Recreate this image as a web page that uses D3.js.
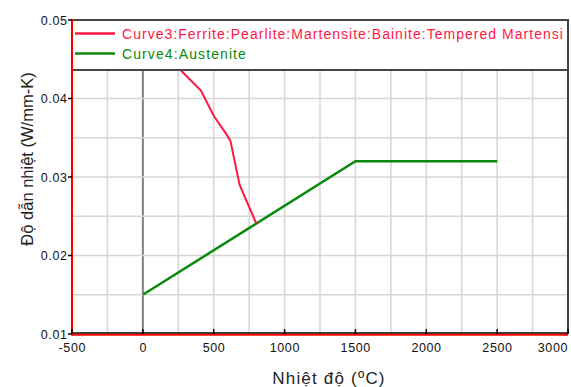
<!DOCTYPE html>
<html><head><meta charset="utf-8">
<script src="https://cdn.jsdelivr.net/npm/d3@7"></script>
<style>body{margin:0;background:#fff}svg{display:block}</style>
</head><body>
<svg id="c" width="571" height="387"></svg>
<script>
const xTicks = [-500, 0, 500, 1000, 1500, 2000, 2500, 3000];
const yTicks = [0.01, 0.02, 0.03, 0.04, 0.05];
const curve3X = [120, 267, 410, 500, 595, 618, 683, 800];
const curve3Y = [0.0462, 0.0436, 0.0410, 0.0378, 0.0353, 0.0346, 0.0290, 0.0241];
const curve4X = [0, 1500, 2500];
const curve4Y = [0.015, 0.032, 0.032];
const legendLabels = ["Curve3:Ferrite:Pearlite:Martensite:Bainite:Tempered Martensi", "Curve4:Austenite"];
const colors = ["#ff1744", "#0a8a0a"];

const L = 72, R = 568, T = 20, B = 334;
const svg = d3.select("#c");
const x = d3.scaleLinear().domain([-500, 3000]).range([L, R]);
const y = d3.scaleLinear().domain([0.01, 0.05]).range([B, T]);
const font = "'Liberation Sans', Arial, sans-serif";

// grid
const gx = d3.range(-500, 3001, 250), gy = d3.range(0.01, 0.0501, 0.005);
svg.append("g").selectAll("line").data(gx).join("line")
  .attr("x1", d => x(d)).attr("x2", d => x(d)).attr("y1", T).attr("y2", B)
  .attr("stroke", d => d === 0 ? "#808080" : "#d6d6d6").attr("stroke-width", d => d === 0 ? 2 : 1.5);
svg.append("g").selectAll("line").data(gy).join("line")
  .attr("x1", L).attr("x2", R).attr("y1", d => y(d)).attr("y2", d => y(d))
  .attr("stroke", "#d6d6d6").attr("stroke-width", 1.5);

// curves
const line = d3.line().x(d => x(d[0])).y(d => y(d[1]));
const c3 = curve3X.map((v, i) => [v, curve3Y[i]]);
const c4 = curve4X.map((v, i) => [v, curve4Y[i]]);
svg.append("path").attr("d", line(c4)).attr("fill", "none").attr("stroke", colors[1]).attr("stroke-width", 2.5);
svg.append("path").attr("d", line(c3)).attr("fill", "none").attr("stroke", colors[0]).attr("stroke-width", 2);

// frame
svg.append("line").attr("x1", L).attr("x2", R).attr("y1", T).attr("y2", T).attr("stroke", "#444").attr("stroke-width", 2);
svg.append("line").attr("x1", R).attr("x2", R).attr("y1", T).attr("y2", B).attr("stroke", "#444").attr("stroke-width", 2);

// legend
const lg = svg.append("g");
lg.append("rect").attr("x", L).attr("y", T).attr("width", R - L).attr("height", 50)
  .attr("fill", "#fff").attr("stroke", "#444").attr("stroke-width", 2);
legendLabels.forEach((t, i) => {
  const yy = 33.5 + i * 20;
  lg.append("line").attr("x1", 75).attr("x2", 115).attr("y1", yy).attr("y2", yy)
    .attr("stroke", colors[i]).attr("stroke-width", 2.5);
  const tx = lg.append("text").attr("x", 122).attr("y", yy + 5)
    .attr("fill", colors[i]).attr("font-family", font).attr("font-size", 14)
    .attr("letter-spacing", 1.1).text(t);
  if (i === 0) tx.attr("textLength", 442).attr("lengthAdjust", "spacing");
});

// axes lines
svg.append("line").attr("x1", L).attr("x2", R).attr("y1", B - 1).attr("y2", B - 1).attr("stroke", "#000").attr("stroke-width", 1.5);
svg.append("line").attr("x1", L).attr("x2", R).attr("y1", B + 0.8).attr("y2", B + 0.8).attr("stroke", "#ff0000").attr("stroke-width", 2);
svg.append("line").attr("x1", L).attr("x2", L).attr("y1", T - 1).attr("y2", B + 1.5).attr("stroke", "#ff0000").attr("stroke-width", 2);

// x ticks
svg.append("g").selectAll("line").data(xTicks).join("line")
  .attr("x1", d => x(d)).attr("x2", d => x(d)).attr("y1", B).attr("y2", B - 5)
  .attr("stroke", "#000").attr("stroke-width", 1.5);
svg.append("g").selectAll("text").data(xTicks).join("text")
  .attr("x", (d, i) => i === xTicks.length - 1 ? R : x(d) + 0.3)
  .attr("y", 352).attr("text-anchor", (d, i) => i === xTicks.length - 1 ? "end" : "middle")
  .attr("font-family", font).attr("font-size", 12.5).attr("letter-spacing", 0.6).attr("fill", "#111").text(d => d);
// y ticks
svg.append("g").selectAll("line").data(yTicks).join("line")
  .attr("x1", L - 4).attr("x2", L).attr("y1", d => y(d)).attr("y2", d => y(d))
  .attr("stroke", "#000").attr("stroke-width", 1.5);
svg.append("g").selectAll("text").data(yTicks).join("text")
  .attr("x", 67.5).attr("y", d => y(d) + 4.5).attr("text-anchor", "end")
  .attr("font-family", font).attr("font-size", 12.5).attr("letter-spacing", 0.6).attr("fill", "#111").text(d => d.toFixed(2));

// titles
svg.append("text").attr("x", 329).attr("y", 384).attr("text-anchor", "middle")
  .attr("font-family", font).attr("font-size", 17).attr("letter-spacing", 1.2).attr("fill", "#222").text("Nhiệt độ (ºC)");
svg.append("text").attr("transform", "translate(33,159) rotate(-90)").attr("text-anchor", "middle")
  .attr("font-family", font).attr("font-size", 16.5).attr("fill", "#222").text("Độ dẫn nhiệt (W/mm-K)");
</script>
</body></html>
